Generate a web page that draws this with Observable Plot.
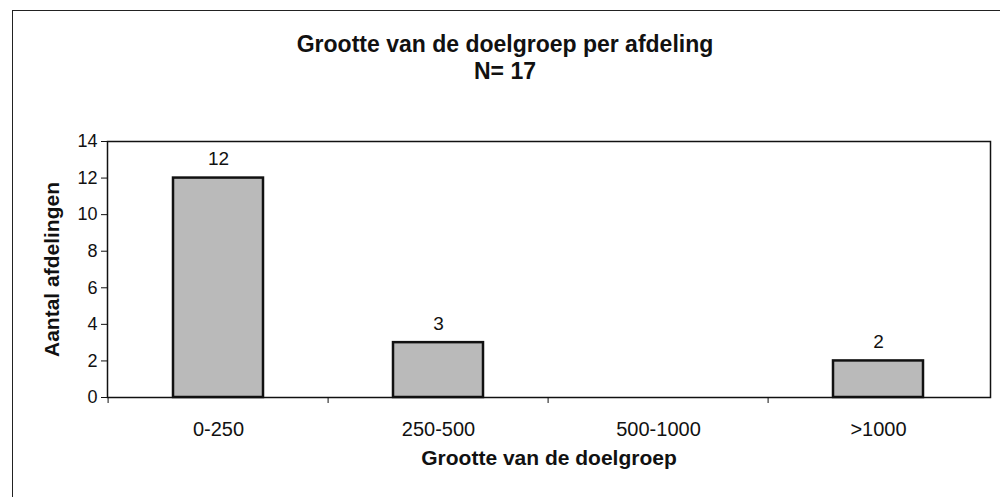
<!DOCTYPE html>
<html><head><meta charset="utf-8">
<script src="https://cdn.jsdelivr.net/npm/d3@7"></script>
<script src="https://cdn.jsdelivr.net/npm/@observablehq/plot@0.6"></script>
<style>
body{margin:0;background:#fff;font-family:"Liberation Sans",Arial,sans-serif;}
#wrap{position:relative;width:1000px;height:497px;overflow:hidden;background:#fff;}
#border{position:absolute;left:12px;top:10px;width:1100px;height:600px;border:1.5px solid #222;}
#title{position:absolute;top:0;left:10px;width:990px;height:110px;text-align:center;font-weight:bold;font-size:23px;line-height:27px;padding-top:31px;box-sizing:border-box;color:#111;}
#chart{position:absolute;top:110px;left:0;}
</style>
</head><body>
<div id="wrap">
<div id="border"></div>
<div id="title">Grootte van de doelgroep per afdeling<br>N= 17</div>
<div id="chart"></div>
</div>
<script>
const categories = ["0-250", "250-500", "500-1000", ">1000"];
const counts = [12, 3, 0, 2];
const yTicks = [0, 2, 4, 6, 8, 10, 12, 14];
const yLabel = "Aantal afdelingen";
const xLabel = "Grootte van de doelgroep";

const data = categories.map((c, i) => ({cat: c, n: counts[i]}));
const shown = data.filter(d => d.n > 0);

const chart = Plot.plot({
  width: 1000,
  height: 387,
  marginLeft: 107,
  marginRight: 10,
  marginTop: 31,
  marginBottom: 100,
  style: {fontFamily: "Liberation Sans, Arial, sans-serif", fontSize: "18px", color: "#111", background: "transparent"},
  x: {domain: categories, paddingInner: 0.59, paddingOuter: 0.295},
  y: {domain: [0, 14]},
  marks: [
    Plot.barY(shown, {x: "cat", y: "n", fill: "#bababa", stroke: "#111", strokeWidth: 2.5}),
    Plot.frame({stroke: "#111", strokeWidth: 1.5}),
    Plot.axisY({ticks: yTicks, tickSize: 6, tickPadding: 4, label: null, fontSize: 18}),
    Plot.axisX({ticks: categories, tickSize: 0, tickPadding: 24, label: null, fontSize: 20}),
    Plot.axisX({ticks: categories, tickSize: 6, text: null, label: null, dx: -110.4}),
    Plot.text(shown, {x: "cat", y: "n", text: d => String(d.n), dy: -19, fontSize: 19}),
    Plot.text([yLabel], {frameAnchor: "left", textAnchor: "middle", lineAnchor: "middle", rotate: -90, dx: -55, fontWeight: "bold", fontSize: 21}),
    Plot.text([xLabel], {frameAnchor: "bottom", textAnchor: "middle", dy: 67, fontWeight: "bold", fontSize: 21})
  ]
});
document.getElementById("chart").appendChild(chart);
</script>
</body></html>
